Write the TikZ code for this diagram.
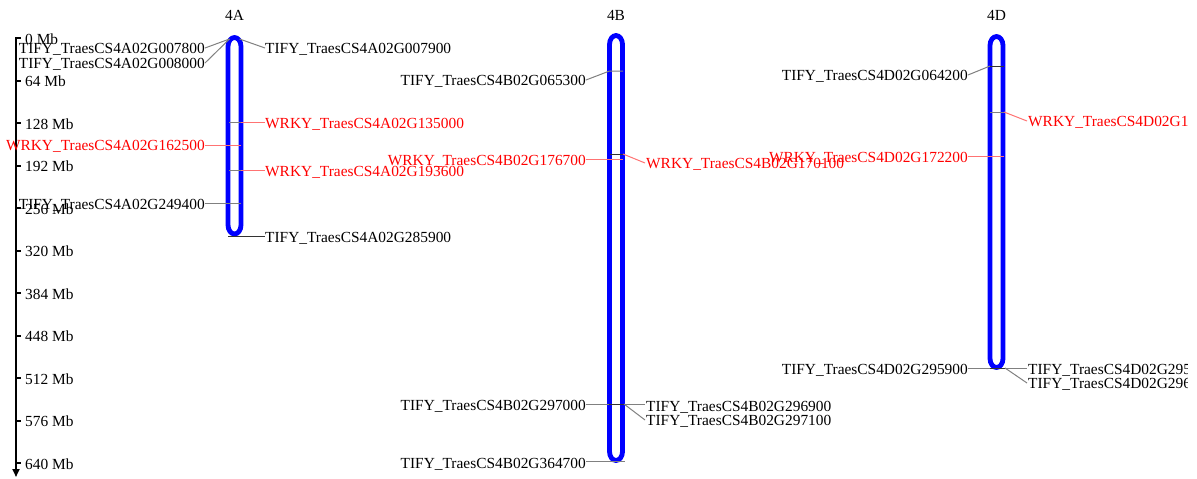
\documentclass[tikz,border=0pt]{standalone}
\usepackage{fontspec}
\setmainfont{Liberation Serif}
\usetikzlibrary{arrows.meta}
\begin{document}
\begin{tikzpicture}[x=1pt,y=-1pt,
  lab/.style={inner sep=0pt, text height=10pt, text depth=0pt,
              font=\fontsize{15.4}{18}\selectfont},
  tify/.style={lab, text=black},
  wrky/.style={lab, text=red},
  tifyline/.style={draw=gray, line width=1pt},
  wrkyline/.style={draw=red!55, line width=1pt},
  markline/.style={draw=black!80, line width=1pt},
  chromframe/.style={inner sep=0pt, minimum width=13pt},
  chromline/.style={draw=blue, line width=4.8pt},
  axisline/.style={line width=2.5pt, -{Triangle[length=8pt,width=7pt]}},
  tick/.style={line width=2pt}]
\useasboundingbox (0,0) rectangle (1197,479);
\begin{scope}
\clip (0,0) rectangle (1187,479);

% ---- scale bar ----
\coordinate (axtop) at (16,37);
\coordinate (axbot) at (16,477);
\draw[axisline] (axtop) -- (axbot);
\foreach \i in {0,...,10}{
  \pgfmathsetmacro{\yy}{38+42.5*\i}
  \pgfmathtruncatemacro{\mb}{64*\i}
  \coordinate (tk\i) at (15,\yy);
  \coordinate (te\i) at (21,\yy);
  \draw[tick] (tk\i) -- (te\i);
  \node[lab, anchor=west] (ax\i) at (25,\yy+1) {\mb{} Mb};
}

% ---- chromosomes: capsules with elliptic ends ----
\node[chromframe, minimum height=196.5pt] (c4A) at (234.5,135.75) {};
\node[chromframe, minimum height=425pt] (c4B) at (616,248) {};
\node[chromframe, minimum height=331pt] (c4D) at (996.5,202) {};
\draw[chromline] (228,46.5) arc[start angle=180, end angle=360, x radius=6.5, y radius=9]
  -- (241,225) arc[start angle=0, end angle=180, x radius=6.5, y radius=9] -- cycle;
\draw[chromline] (609.5,44.5) arc[start angle=180, end angle=360, x radius=6.5, y radius=9]
  -- (622.5,451.5) arc[start angle=0, end angle=180, x radius=6.5, y radius=9] -- cycle;
\draw[chromline] (990,45.5) arc[start angle=180, end angle=360, x radius=6.5, y radius=9]
  -- (1003,358.5) arc[start angle=0, end angle=180, x radius=6.5, y radius=9] -- cycle;
\node[lab] (t4A) at (234.5,15) {4A};
\node[lab] (t4B) at (616,15) {4B};
\node[lab] (t4D) at (996.5,15) {4D};

% ---- 4A ----
\coordinate (a0l) at (229.5,39);
\coordinate (a0r) at (239.5,39);
\node[tify, anchor=east] (a1) at (205,48) {TIFY\_TraesCS4A02G007800};
\node[tify, anchor=east] (a2) at (205,63) {TIFY\_TraesCS4A02G008000};
\node[tify, anchor=west] (a3) at (265,48) {TIFY\_TraesCS4A02G007900};
\draw[tifyline] (a1.east) -- (a0l);
\draw[tifyline] (a2.east) -- (a0l);
\draw[tifyline] (a0r) -- (a3.west);

\coordinate (a4m) at (229,122);
\coordinate (a4e) at (241,122);
\node[wrky, anchor=west] (a4) at (265,123) {WRKY\_TraesCS4A02G135000};
\draw[tifyline] (a4m) -- (a4e);
\draw[wrkyline] (a4e) -- (a4.west |- a4e);

\coordinate (a5e) at (241,145);
\node[wrky, anchor=east] (a5) at (205,145) {WRKY\_TraesCS4A02G162500};
\draw[wrkyline] (a5.east |- a5e) -- (a5e);

\coordinate (a6m) at (229,170);
\coordinate (a6e) at (241,170);
\node[wrky, anchor=west] (a6) at (265,171) {WRKY\_TraesCS4A02G193600};
\draw[tifyline] (a6m) -- (a6e);
\draw[wrkyline] (a6e) -- (a6.west |- a6e);

\coordinate (a7e) at (241,203);
\node[tify, anchor=east] (a7) at (205,204) {TIFY\_TraesCS4A02G249400};
\draw[tifyline] (a7.east |- a7e) -- (a7e);

\coordinate (a8m) at (228,236);
\node[tify, anchor=west] (a8) at (265,237) {TIFY\_TraesCS4A02G285900};
\draw[markline] (a8m) -- (a8.west |- a8m);

% ---- 4B ----
\coordinate (b1m) at (609.5,71);
\coordinate (b1e) at (623,71);
\node[tify, anchor=east] (b1) at (586,80) {TIFY\_TraesCS4B02G065300};
\draw[tifyline] (b1.east) -- (b1m) -- (b1e);

\coordinate (b2m) at (610,154);
\coordinate (b2e) at (623,154);
\node[wrky, anchor=west] (b2) at (646,163) {WRKY\_TraesCS4B02G170100};
\draw[markline] (b2m) -- (b2e);
\draw[wrkyline] (b2e) -- ([xshift=-1pt]b2.west);

\coordinate (b3e) at (623,159);
\node[wrky, anchor=east] (b3) at (586,160) {WRKY\_TraesCS4B02G176700};
\draw[wrkyline] (b3.east |- b3e) -- (b3e);

\coordinate (b4e) at (624,404);
\node[tify, anchor=east] (b4) at (586,405) {TIFY\_TraesCS4B02G297000};
\node[tify, anchor=west] (b5) at (646,406) {TIFY\_TraesCS4B02G296900};
\node[tify, anchor=west] (b6) at (646,420) {TIFY\_TraesCS4B02G297100};
\draw[tifyline] (b4.east |- b4e) -- (b4e);
\draw[markline] (609,404) -- (b4e);
\draw[tifyline] (b4e) -- ([xshift=-1pt]b5.west |- b4e);
\draw[tifyline] (b4e) -- ([xshift=-1pt]b6.west);

\coordinate (b7e) at (625,461);
\node[tify, anchor=east] (b7) at (586,463) {TIFY\_TraesCS4B02G364700};
\draw[tifyline] (b7.east |- b7e) -- (b7e);

% ---- 4D ----
\coordinate (d1m) at (990,66);
\coordinate (d1e) at (1004,66);
\node[tify, anchor=east] (d1) at (968,75) {TIFY\_TraesCS4D02G064200};
\draw[tifyline] (d1.east) -- (d1m);
\draw[markline] (d1m) -- (d1e);

\coordinate (d2m) at (990,112);
\coordinate (d2e) at (1004,112);
\node[wrky, anchor=west] (d2) at (1028,121) {WRKY\_TraesCS4D02G167600};
\draw[tifyline] (d2m) -- (d2e);
\draw[wrkyline] (d2e) -- ([xshift=-1pt]d2.west);

\coordinate (d3e) at (1004,156);
\node[wrky, anchor=east] (d3) at (968,157) {WRKY\_TraesCS4D02G172200};
\draw[wrkyline] (d3.east |- d3e) -- (d3e);

\coordinate (d4e) at (1005,368);
\node[tify, anchor=east] (d4) at (968,369) {TIFY\_TraesCS4D02G295900};
\node[tify, anchor=west] (d5) at (1028,369) {TIFY\_TraesCS4D02G295800};
\node[tify, anchor=west] (d6) at (1028,383) {TIFY\_TraesCS4D02G296000};
\draw[tifyline] (d4.east |- d4e) -- (d4e);
\draw[markline] (990,368) -- (d4e);
\draw[tifyline] (d4e) -- ([xshift=-1pt]d5.west |- d4e);
\draw[tifyline] (d4e) -- ([xshift=-1pt]d6.west);
\end{scope}
\end{tikzpicture}
\end{document}
